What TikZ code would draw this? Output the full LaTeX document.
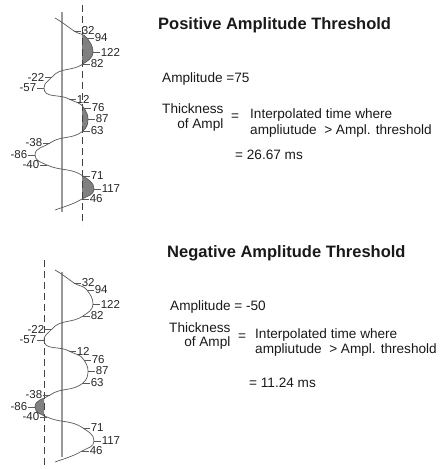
\documentclass[tikz,border=0pt]{standalone}
\usepackage{fontspec}
\setmainfont{Liberation Sans}
\usetikzlibrary{positioning}

\newcommand\wavepath{(55,18) to[out=-30,in=145] (74,31) to[out=-35,in=125] (87,38) to[out=-55,in=90] (93,52) to[out=-90,in=35] (83,64) to[out=215,in=50] (52,77) to[out=230,in=90] (44,88) to[out=-90,in=150] (69,99) to[out=-30,in=120] (84,108) to[out=-60,in=90] (88,119) to[out=-90,in=40] (83,131) to[out=220,in=35] (50,143) to[out=215,in=90] (35,155) to[out=-90,in=155] (47,165) to[out=-25,in=145] (83,176) to[out=-35,in=90] (94,189) to[out=-90,in=30] (82,199) to[out=210,in=20] (55,210)}

\newcommand\ampticks[1]{%
  \foreach \px/\py/\v/\d/\a in {74/31/32/7/west, 87/38/94/7/west, 93/52/122/7/west, 83/64/82/7/west, 52/77/-22/-7/east, 44/88/-57/-7/east, 69/99/12/7/west, 84/108/76/7/west, 88/119/87/7/west, 83/131/63/7/west, 50/143/-38/-7/east, 35/155/-86/-7/east, 47/165/-40/-7/east, 83/176/71/7/west, 94/189/117/7/west, 82/199/46/7/west}
    \draw[tick] (\px,\py) -- ++(\d,0) node[val, anchor=\a] (#1\v) {\v};}

\begin{document}
\begin{tikzpicture}[
    x=1pt, y=-1pt,
    wave/.style={draw=black!65, line width=0.7pt},
    zero/.style={draw=black!40, line width=1.1pt},
    thr/.style={draw=black!75, line width=0.9pt, dash pattern=on 7pt off 4pt},
    tick/.style={draw=black!65, line width=0.6pt},
    shade/.style={fill=black!50},
    val/.style={font=\fontsize{11.5}{12}\selectfont, inner sep=0.5pt, text=black!85},
    body/.style={font=\fontsize{13.6}{15}\selectfont, inner sep=0pt, anchor=west, text=black!90},
    title/.style={font=\fontsize{16.5}{18}\selectfont\bfseries, inner sep=0pt, anchor=west, text=black!90}
]
\useasboundingbox (0,0) rectangle (441,469);

\begin{scope}
  \begin{scope}
    \clip (82,0) rectangle (130,230);
    \fill[shade] \wavepath -- (0,210) -- (0,18) -- cycle;
  \end{scope}
  \coordinate (z1a) at (62,12);
  \coordinate (z1b) at (62,212);
  \coordinate (t1a) at (82,5);
  \coordinate (t1b) at (82,225);
  \draw[zero] (z1a) -- (z1b);
  \draw[thr] (t1a) -- (t1b);
  \draw[wave] \wavepath;
  \ampticks{p}
\end{scope}

\begin{scope}[yshift=-252pt]
  \begin{scope}
    \clip (0,0) rectangle (44,230);
    \fill[shade] \wavepath -- (130,210) -- (130,18) -- cycle;
  \end{scope}
  \coordinate (z2a) at (62,20);
  \coordinate (z2b) at (62,205);
  \coordinate (t2a) at (44,8);
  \coordinate (t2b) at (44,217);
  \draw[zero] (z2a) -- (z2b);
  \draw[thr] (t2a) -- (t2b);
  \draw[wave] \wavepath;
  \ampticks{n}
\end{scope}

\node[title] (ttl1) at (158,25) {Positive Amplitude Threshold};
\node[body] (amp1) at (162,79) {Amplitude =75};
\node[body, align=right] (thk1) at (162,117) {Thickness\\of Ampl};
\node[body] (eq1) at (231,117) {=};
\node[body, align=left, font=\fontsize{13.6}{16}\selectfont] (int1) at (250,123) {Interpolated time where\\ampliutude~~> Ampl. threshold};
\node[body] (res1) at (235,155) {= 26.67 ms};

\node[title] (ttl2) at (167,253) {Negative Amplitude Threshold};
\node[body] (amp2) at (170,307) {Amplitude = -50};
\node[body, align=right, font=\fontsize{13.6}{13.5}\selectfont] (thk2) at (169,336) {Thickness\\of Ampl};
\node[body] (eq2) at (238,337) {=};
\node[body, align=left] (int2) at (255,342) {Interpolated time where\\ampliutude~~> Ampl. threshold};
\node[body] (res2) at (249,383) {= 11.24 ms};
\end{tikzpicture}
\end{document}
